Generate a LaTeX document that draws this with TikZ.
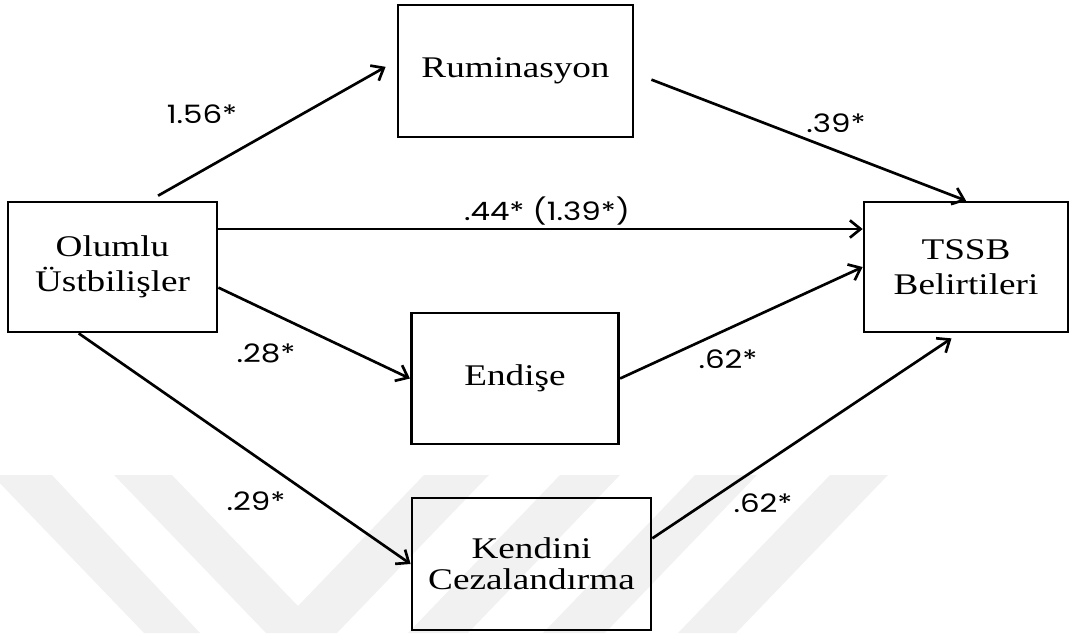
\documentclass[tikz,border=0pt]{standalone}
\usepackage{fontspec}
\setmainfont[FakeStretch=1.24]{Liberation Serif}
\newfontfamily\coeffont[FakeStretch=1.22]{Poppins}
\usetikzlibrary{arrows.meta, calc, positioning}
\definecolor{markgray}{HTML}{F1F1F1}

\begin{document}
\begin{tikzpicture}[x=0.75pt,y=-0.75pt,
    varbox/.style={draw,line width=2pt,align=center,inner sep=0pt,font=\fontsize{22.5}{26.6}\selectfont},
    coef/.style={font=\coeffont\fontsize{19}{22}\selectfont,inner sep=0pt},
    arr/.style={-{Straight Barb[length=8pt,width=13pt,line width=2pt]},line width=2pt}]
    \useasboundingbox (0,0) rectangle (1070,633);
    % faint watermark in the back
    \fill[markgray] (-8,475) -- (52,475) -- (200,633) -- (144,633) -- cycle;
    \fill[markgray] (114,475) -- (172,475) -- (298,606) -- (424,475) -- (489,475)
        -- (337,633) -- (266,633) -- cycle;
    \fill[markgray] (560,475) -- (620,475) -- (468,633) -- (408,633) -- cycle;
    \fill[markgray] (695,475) -- (757,475) -- (605,633) -- (543,633) -- cycle;
    \fill[markgray] (830,475) -- (888,475) -- (736,633) -- (678,633) -- cycle;

    \node[varbox,minimum width=156.8pt,minimum height=97.5pt] (olu) at (112.5,267) {Olumlu\\Üstbilişler};
    \node[varbox,minimum width=176.3pt,minimum height=99pt] (rum) at (515.5,71) {Ruminasyon};
    \node[varbox,minimum width=155.6pt,minimum height=98.3pt] (end) at (515,378.5) {Endişe};
    \node[varbox,minimum width=179.3pt,minimum height=99pt,font=\fontsize{22.5}{23}\selectfont] (ken) at (531.5,564) {Kendini\\Cezalandırma};
    \node[varbox,minimum width=153pt,minimum height=97.5pt] (tssb) at (966,267) {TSSB\\Belirtileri};

    \draw[arr,shorten <=7.6pt,shorten >=9.5pt] (olu.61) -- (rum.175);
    \draw[arr,shorten <=13.7pt] (rum.-1) -- (tssb.north);
    \coordinate (direct) at ($(olu.east)+(0,-38)$);
    \draw[arr] (direct) -- (direct -| tssb.west);
    \draw[arr] (olu.-11) -- (end.west);
    \draw[arr] (end.east) -- (tssb.west);
    \draw[arr] (olu.243.4) -- (ken.west);
    \draw[arr,shorten >=6.8pt] (ken.12.7) -- (tssb.264.3);

    \node[coef] (c156) at (202,114) {1.56*};
    \node[coef] (c044) at (547,211) {.44* (1.39*)};
    \node[coef] (c039) at (836,123) {.39*};
    \node[coef] (c028) at (266,353) {.28*};
    \node[coef] (c029) at (256,501) {.29*};
    \node[coef] (c062a) at (728,359) {.62*};
    \node[coef] (c062b) at (763,503) {.62*};
\end{tikzpicture}
\end{document}
